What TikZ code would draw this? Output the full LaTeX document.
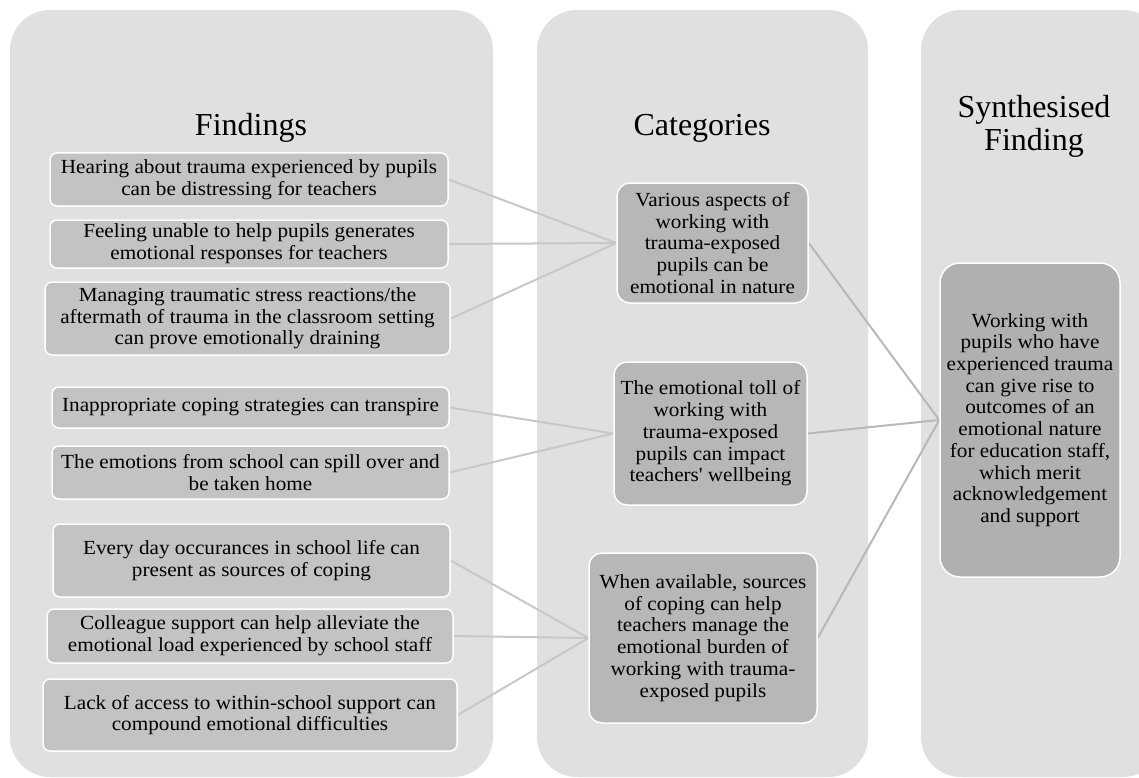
\documentclass[tikz,border=0pt]{standalone}
\usepackage{fontspec}
\setmainfont{Liberation Serif}
\newfontfamily\boxfont[FakeStretch=1.06]{Liberation Serif}
\usetikzlibrary{positioning}

\definecolor{panelgrey}{RGB}{224,224,224}
\definecolor{findgrey}{RGB}{195,195,195}
\definecolor{catgrey}{RGB}{183,183,183}
\definecolor{synthgrey}{RGB}{176,176,176}
\definecolor{linkleft}{RGB}{200,200,200}
\definecolor{linkright}{RGB}{184,184,184}

\pgfdeclarelayer{panels}
\pgfdeclarelayer{links}
\pgfsetlayers{panels,links,main}

\tikzset{
  panel/.style={fill=panelgrey, rounded corners=40pt},
  heading/.style={font=\fontsize{32}{33}\selectfont, align=center, inner sep=0pt},
  boxbase/.style={draw=white, line width=1.5pt, align=center, inner sep=0pt,
    font=\boxfont\fontsize{20}{21.7}\selectfont},
  findbox/.style={boxbase, fill=findgrey, rounded corners=7pt},
  catbox/.style={boxbase, fill=catgrey, rounded corners=13pt},
  synthbox/.style={boxbase, fill=synthgrey, rounded corners=20pt},
  linkL/.style={draw=linkleft, line width=2pt},
  linkR/.style={draw=linkright, line width=2pt},
  dims/.style 2 args={minimum width=#1pt, minimum height=#2pt},
}

\begin{document}
\begin{tikzpicture}[x=1pt, y=-1pt]
\useasboundingbox (0,0) rectangle (1139,778);

% column backgrounds
\begin{pgfonlayer}{panels}
  \fill[panel] (10,10) rectangle (493,777);
  \fill[panel] (537,10) rectangle (868,777);
  \fill[panel] (921,10) rectangle (1163,777);
\end{pgfonlayer}

% column headings (base of a two-line heading is its last line)
\node[heading, anchor=base] (hfind) at (251,136) {Findings};
\node[heading, anchor=base] (hcat) at (702,136) {Categories};
\node[heading, anchor=base] (hsyn) at (1034,151) {Synthesised\\Finding};

% findings
\node[findbox, dims={398}{53}] (f1) at (249,179.5)
  {Hearing about trauma experienced by pupils\\can be distressing for teachers};
\node[findbox, dims={398}{48}] (f2) at (249,244)
  {Feeling unable to help pupils generates\\emotional responses for teachers};
\node[findbox, dims={405}{73}] (f3) at (247.5,318.5)
  {Managing traumatic stress reactions/the\\aftermath of trauma in the classroom setting\\can prove emotionally draining};
\node[findbox, dims={397}{41}] (f4) at (250.5,407.5)
  {Inappropriate coping strategies can transpire};
\node[findbox, dims={397}{53}] (f5) at (250.5,472.5)
  {The emotions from school can spill over and\\be taken home};
\node[findbox, dims={397}{73}] (f6) at (251.5,560.5)
  {Every day occurances in school life can\\present as sources of coping};
\node[findbox, dims={406}{54}] (f7) at (250,636)
  {Colleague support can help alleviate the\\emotional load experienced by school staff};
\node[findbox, dims={414}{72}] (f8) at (250,715)
  {Lack of access to within-school support can\\compound emotional difficulties};

% categories
\node[catbox, dims={191}{120}] (c1) at (712.5,243)
  {Various aspects of\\working with\\trauma-exposed\\pupils can be\\emotional in nature};
\node[catbox, dims={193}{143}] (c2) at (710.5,433.5)
  {The emotional toll of\\working with\\trauma-exposed\\pupils can impact\\teachers\textquotesingle{} wellbeing};
\node[catbox, dims={228}{170}] (c3) at (703,638)
  {When available, sources\\of coping can help\\teachers manage the\\emotional burden of\\working with trauma-\\exposed pupils};

% synthesised finding
\node[synthbox, dims={180}{314}] (s) at (1030,420)
  {Working with\\pupils who have\\experienced trauma\\can give rise to\\outcomes of an\\emotional nature\\for education staff,\\which merit\\acknowledgement\\and support};

% connectors
\begin{pgfonlayer}{links}
  \draw[linkL] (f1.east) -- (c1.west);
  \draw[linkL] (f2.east) -- (c1.west);
  \draw[linkL] (f3.east) -- (c1.west);
  \draw[linkL] (f4.east) -- (c2.west);
  \draw[linkL] (f5.east) -- (c2.west);
  \draw[linkL] (f6.east) -- (c3.west);
  \draw[linkL] (f7.east) -- (c3.west);
  \draw[linkL] (f8.east) -- (c3.west);
  \draw[linkR] (c1.east) -- (s.west);
  \draw[linkR] (c2.east) -- (s.west);
  \draw[linkR] (c3.east) -- (s.west);
\end{pgfonlayer}
\end{tikzpicture}
\end{document}
